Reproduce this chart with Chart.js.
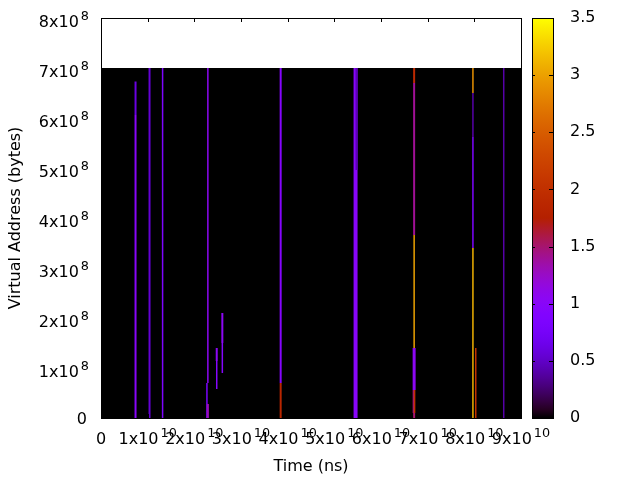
<!DOCTYPE html>
<html>
<head>
<meta charset="utf-8">
<script src="https://cdn.jsdelivr.net/npm/chart.js@4"></script>
<style>
html, body { margin: 0; padding: 0; background: #fff; }
#wrap { width: 640px; height: 480px; }
</style>
</head>
<body>
<div id="wrap"><canvas id="heatmap" width="640" height="480"></canvas></div>
<script>
// heatmap stripes: time (ns), address range (bytes), value
const stripeTime  = [7.4e9, 7.4e9, 1.04e10, 1.32e10, 2.29e10, 2.27e10, 2.29e10, 2.48e10, 2.48e10, 2.60e10,
                     2.60e10, 3.85e10, 3.85e10, 5.455e10, 5.475e10, 6.71e10, 6.71e10, 6.71e10, 6.71e10, 6.70e10,
                     6.72e10, 6.71e10, 7.97e10, 7.97e10, 7.97e10, 7.97e10, 8.03e10, 8.63e10];
const stripeLow   = [6.06e8, 0, 0, 0, 0.7e8, 0, 0, 1.14e8, 0.58e8, 1.5e8,
                     0.9e8, 0.7e8, 0, 0, 4.96e8, 6.7e8, 3.66e8, 1.4e8, 0.56e8, 0.1e8,
                     0.1e8, 0, 6.5e8, 5.62e8, 3.4e8, 0, 0, 0];
const stripeHigh  = [6.73e8, 6.06e8, 7e8, 7e8, 7e8, 0.7e8, 0.28e8, 1.4e8, 1.14e8, 2.1e8,
                     1.5e8, 7e8, 0.7e8, 7e8, 7e8, 7e8, 6.7e8, 3.66e8, 1.4e8, 0.56e8,
                     0.56e8, 0.1e8, 7e8, 6.5e8, 5.62e8, 3.4e8, 1.4e8, 7e8];
const stripeValue = [0.6, 1.0, 0.55, 0.85, 1.05, 0.8, 1.3, 1.05, 0.95, 1.05,
                     0.95, 0.95, 1.85, 1.0, 0.45, 1.9, 1.4, 3.0, 1.05, 1.5,
                     2.0, 1.5, 2.9, 0.4, 0.85, 3.1, 2.05, 0.4];
// drawn width of each stripe, pixels (style only)
const stripeWidth = [2, 2, 2, 1.5, 1.5, 1.5, 2, 2, 1.5, 2,
                     1.5, 2, 2, 4, 2, 2, 2, 1.5, 3, 2,
                     1.5, 2, 1.5, 1.5, 1.5, 1.5, 1.5, 1.5];

// sampled region (value 0 everywhere else)
const regionTime = [0, 9e10];
const regionTop = 7e8;

// tick labels
const xTickMantissa = [0, 1, 2, 3, 4, 5, 6, 7, 8, 9];
const xTickExp = 10;
const yTickMantissa = [0, 1, 2, 3, 4, 5, 6, 7, 8];
const yTickExp = 8;
const cbTicks = [0, 0.5, 1, 1.5, 2, 2.5, 3, 3.5];
const cbMax = 3.5;

const FONT = 'DejaVu Sans';
Chart.defaults.font.family = FONT;
Chart.defaults.font.size = 16;
Chart.defaults.color = '#000';

// gnuplot default palette (rgbformulae 7,5,15)
function palette(v) {
    const t = Math.min(Math.max(v / cbMax, 0), 1);
    const r = Math.sqrt(t), g = t * t * t, b = Math.max(Math.sin(2 * Math.PI * t), 0);
    return `rgb(${Math.round(r * 255)},${Math.round(g * 255)},${Math.round(b * 255)})`;
}

const n = stripeTime.length;
const datasets = [{
    data: regionTime.map(t => ({ x: t, y: regionTop })),
    showLine: true,
    fill: 'origin',
    backgroundColor: '#000',
    borderWidth: 0,
    pointRadius: 0,
    order: n + 1
}];
for (let i = 0; i < n; i++) {
    datasets.push({
        data: [{ x: stripeTime[i], y: stripeLow[i] }, { x: stripeTime[i], y: stripeHigh[i] }],
        showLine: true,
        borderColor: palette(stripeValue[i]),
        borderWidth: stripeWidth[i],
        borderCapStyle: 'butt',
        pointRadius: 0,
        order: n - i
    });
}

// draw "Nx10^e" label, superscript exponent
function powLabel(ctx, mant, exp, x, baseY, supY, align) {
    const main = mant === 0 ? '0' : mant + 'x10';
    ctx.font = '16px "' + FONT + '"';
    const wMain = ctx.measureText(main).width;
    let wSup = 0;
    if (mant !== 0) {
        ctx.font = '12.8px "' + FONT + '"';
        wSup = ctx.measureText(String(exp)).width + 2;
    }
    let left;
    if (align === 'center') left = x - (wMain + wSup) / 2;
    else left = x - wMain - wSup;
    ctx.textAlign = 'left';
    ctx.textBaseline = 'alphabetic';
    ctx.font = '16px "' + FONT + '"';
    ctx.fillText(main, left, baseY);
    if (mant !== 0) {
        ctx.font = '12.8px "' + FONT + '"';
        ctx.fillText(String(exp), left + wMain + 2, supY);
    }
}

const gnuplotFrame = {
    id: 'gnuplotFrame',
    afterDraw(chart) {
        const { ctx, chartArea: a, scales } = chart;
        const xs = scales.x, ys = scales.y, cb = scales.cb;
        ctx.save();
        ctx.fillStyle = '#000';
        ctx.strokeStyle = '#000';
        ctx.lineWidth = 1;

        // inward ticks on all four sides
        ctx.beginPath();
        xTickMantissa.forEach(m => {
            const px = Math.round(xs.getPixelForValue(m * Math.pow(10, xTickExp))) + 0.5;
            ctx.moveTo(px, a.bottom); ctx.lineTo(px, a.bottom - 4);
            ctx.moveTo(px, a.top); ctx.lineTo(px, a.top + 4);
        });
        yTickMantissa.forEach(m => {
            const py = Math.round(ys.getPixelForValue(m * Math.pow(10, yTickExp))) + 0.5;
            ctx.moveTo(a.left, py); ctx.lineTo(a.left + 4, py);
            ctx.moveTo(a.right, py); ctx.lineTo(a.right - 4, py);
        });
        ctx.stroke();
        ctx.strokeRect(a.left + 0.5, a.top + 0.5, a.right - a.left, a.bottom - a.top);

        // tick labels
        xTickMantissa.forEach(m => {
            const px = xs.getPixelForValue(m * Math.pow(10, xTickExp));
            powLabel(ctx, m, xTickExp, px, a.bottom + 25.5, a.bottom + 19, 'center');
        });
        yTickMantissa.forEach(m => {
            const py = ys.getPixelForValue(m * Math.pow(10, yTickExp));
            if (m === 0) powLabel(ctx, m, yTickExp, a.left - 14, py + 5.8, 0, 'right');
            else powLabel(ctx, m, yTickExp, a.left - 12, py + 8.5, py + 1.6, 'right');
        });

        // colour box
        const bx = a.right + 11, bw = 21;
        const top = cb.getPixelForValue(cbMax), bottom = cb.getPixelForValue(0);
        const grad = ctx.createLinearGradient(0, bottom, 0, top);
        for (let k = 0; k <= 50; k++) grad.addColorStop(k / 50, palette(cbMax * k / 50));
        ctx.fillStyle = grad;
        ctx.fillRect(bx, top, bw, bottom - top);
        ctx.beginPath();
        cbTicks.forEach(v => {
            const py = Math.round(cb.getPixelForValue(v)) + 0.5;
            ctx.moveTo(bx, py); ctx.lineTo(bx + 3, py);
            ctx.moveTo(bx + bw, py); ctx.lineTo(bx + bw - 4, py);
        });
        ctx.stroke();
        ctx.strokeRect(bx + 0.5, top + 0.5, bw, bottom - top);
        ctx.restore();
    }
};

new Chart(document.getElementById('heatmap'), {
    type: 'scatter',
    data: { datasets: datasets },
    options: {
        responsive: false,
        animation: false,
        devicePixelRatio: 1,
        layout: { padding: { top: 18, left: 0, right: 0, bottom: 0 } },
        plugins: { legend: { display: false }, tooltip: { enabled: false } },
        scales: {
            x: {
                type: 'linear', min: 0, max: 9e10,
                ticks: { display: false, stepSize: 1e10 },
                grid: { display: false, drawTicks: false },
                border: { display: false },
                title: { display: true, text: 'Time (ns)', padding: { top: 0, bottom: 4 } },
                afterFit: s => { s.height = 62; s.paddingLeft = 0; s.paddingRight = 0; }
            },
            y: {
                type: 'linear', min: 0, max: 8e8,
                ticks: { display: false, stepSize: 1e8 },
                grid: { display: false, drawTicks: false },
                border: { display: false },
                title: { display: true, text: 'Virtual Address (bytes)', padding: { top: 6, bottom: 0 } },
                afterFit: s => { s.width = 101; s.paddingTop = 0; s.paddingBottom = 0; }
            },
            cb: {
                axis: 'y', position: 'right', type: 'linear', min: 0, max: cbMax,
                ticks: { stepSize: 0.5, padding: 49, callback: v => String(v) },
                grid: { display: false, drawTicks: false },
                border: { display: false },
                afterFit: s => { s.width = 119; s.paddingTop = 0; s.paddingBottom = 0; }
            }
        }
    },
    plugins: [gnuplotFrame]
});
</script>
</body>
</html>
